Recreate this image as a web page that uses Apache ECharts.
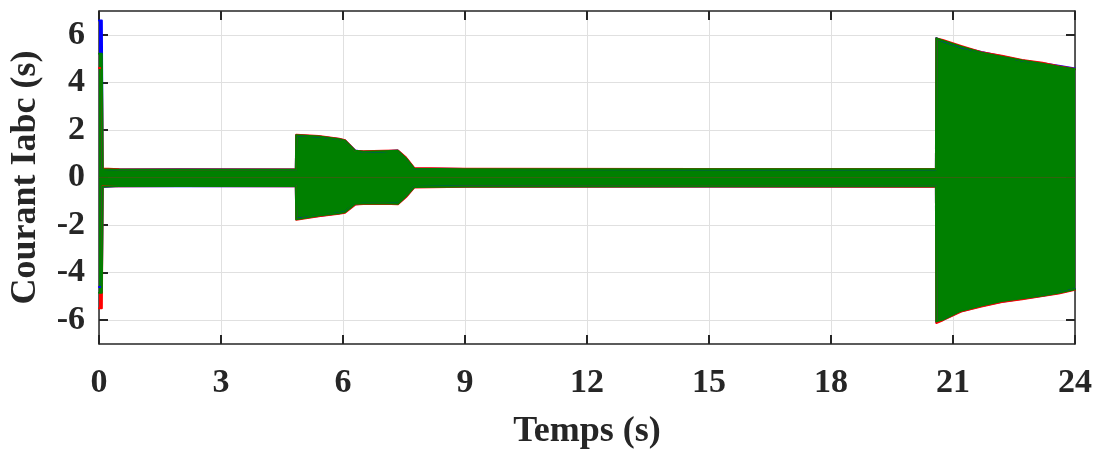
<!DOCTYPE html>
<html>
<head>
<meta charset="utf-8">
<script src="https://cdn.jsdelivr.net/npm/echarts@6/dist/echarts.min.js"></script>
<style>html,body{margin:0;padding:0;background:#fff}#c{width:1102px;height:455px}</style>
</head>
<body>
<div id="c"></div>
<script>
// Time grid (s) for the envelope of the three phase currents
var time    = [0, 0.07, 0.09, 0.5, 2, 4.84, 4.85, 5.4, 5.9, 6.05, 6.3, 6.5, 7.0, 7.35, 7.55, 7.75, 9, 15, 20.58, 20.59, 20.75, 21.2, 21.7, 22.2, 22.7, 23.2, 23.6, 24];
// Upper / lower envelopes (A)
var blueHi  = [6.6, 6.6, 0.36, 0.34, 0.35, 0.34, 1.78, 1.72, 1.62, 1.56, 1.14, 1.08, 1.1, 1.13, 0.82, 0.38, 0.36, 0.35, 0.35, 5.86, 5.74, 5.48, 5.28, 5.1, 4.92, 4.8, 4.7, 4.58];
var blueLo  = [-4.6, -4.6, -0.4, -0.36, -0.37, -0.36, -1.74, -1.62, -1.5, -1.45, -1.12, -1.1, -1.09, -1.1, -0.8, -0.4, -0.38, -0.38, -0.38, -6.08, -5.98, -5.62, -5.4, -5.22, -5.1, -4.97, -4.86, -4.7];
var redHi   = [4.6, 4.6, 0.38, 0.35, 0.34, 0.35, 1.8, 1.74, 1.63, 1.57, 1.13, 1.1, 1.12, 1.14, 0.84, 0.4, 0.37, 0.36, 0.36, 5.84, 5.78, 5.53, 5.27, 5.12, 4.94, 4.82, 4.68, 4.56];
var redLo   = [-5.5, -5.5, -0.36, -0.37, -0.36, -0.37, -1.78, -1.63, -1.52, -1.48, -1.14, -1.11, -1.1, -1.12, -0.82, -0.42, -0.39, -0.38, -0.39, -6.12, -6.0, -5.64, -5.42, -5.23, -5.12, -4.98, -4.88, -4.72];
var greenHi = [5.2, 5.2, 0.35, 0.33, 0.33, 0.33, 1.78, 1.72, 1.61, 1.55, 1.12, 1.08, 1.1, 1.12, 0.8, 0.37, 0.35, 0.35, 0.35, 5.85, 5.75, 5.5, 5.25, 5.08, 4.92, 4.78, 4.66, 4.55];
var greenLo = [-4.85, -4.85, -0.38, -0.36, -0.36, -0.36, -1.76, -1.6, -1.5, -1.45, -1.1, -1.09, -1.08, -1.1, -0.78, -0.4, -0.38, -0.37, -0.37, -6.05, -5.97, -5.6, -5.38, -5.19, -5.08, -4.96, -4.85, -4.7];
var xTicks = [0, 3, 6, 9, 12, 15, 18, 21, 24];
var yTicks = [-6, -4, -2, 0, 2, 4, 6];

function pairs(v){ return time.map(function(t,i){ return [t, v[i]]; }); }
function band(name, v, color){
  return {
    name: name, type: 'line', data: pairs(v), showSymbol: false, symbol: 'none',
    lineStyle: {color: color, width: 2, cap: 'round', join: 'round'}, itemStyle: {color: color},
    areaStyle: {color: color, opacity: 1, origin: 0},
    xAxisIndex: 0, yAxisIndex: 0, animation: false, silent: true, clip: false
  };
}
var FONT = '"Liberation Serif", "Times New Roman", serif';
var axisCol = '#262626';
var chart = echarts.init(document.getElementById('c'), null, {renderer: 'canvas'});
chart.setOption({
  backgroundColor: '#fff',
  animation: false,
  grid: {left: 98, right: 27, top: 11, bottom: 106, containLabel: false},
  xAxis: [{
    type: 'value', min: 0, max: 24, interval: 3,
    name: 'Temps (s)', nameLocation: 'middle', nameGap: 70,
    nameTextStyle: {fontFamily: FONT, fontWeight: 'bold', fontSize: 36, color: axisCol},
    axisLine: {show: true, onZero: false, lineStyle: {color: axisCol, width: 1.5}},
    axisTick: {show: true, inside: true, length: 9, customValues: xTicks, lineStyle: {color: axisCol, width: 2}},
    axisLabel: {fontFamily: FONT, fontWeight: 'bold', fontSize: 34, color: axisCol, margin: 22, customValues: xTicks},
    splitLine: {show: true, lineStyle: {color: '#e0e0e0', width: 1}}
  },{
    type: 'value', min: 0, max: 24, interval: 3, position: 'top',
    axisLine: {show: true, onZero: false, lineStyle: {color: axisCol, width: 1.5}},
    axisTick: {show: true, inside: true, length: 9, lineStyle: {color: axisCol, width: 2}},
    axisLabel: {show: false}, splitLine: {show: false}
  }],
  yAxis: [{
    type: 'value', min: -7, max: 7,
    name: 'Courant Iabc (s)', nameLocation: 'middle', nameGap: 55, nameRotate: 90,
    nameTextStyle: {fontFamily: FONT, fontWeight: 'bold', fontSize: 36, color: axisCol},
    axisLine: {show: true, onZero: false, lineStyle: {color: axisCol, width: 1.5}},
    axisTick: {show: true, inside: true, length: 9, customValues: yTicks, lineStyle: {color: axisCol, width: 2}},
    axisLabel: {fontFamily: FONT, fontWeight: 'bold', fontSize: 34, color: axisCol, margin: 14, customValues: yTicks},
    splitLine: {show: true, lineStyle: {color: '#e0e0e0', width: 1}}
  },{
    type: 'value', min: -7, max: 7, position: 'right',
    axisLine: {show: true, onZero: false, lineStyle: {color: axisCol, width: 1.5}},
    axisTick: {show: true, inside: true, length: 9, customValues: yTicks, lineStyle: {color: axisCol, width: 2}},
    axisLabel: {show: false}, splitLine: {show: false}
  }],
  series: [
    band('Ia+', blueHi, '#0000ff'), band('Ia-', blueLo, '#0000ff'),
    band('Ib+', redHi, '#ff0000'), band('Ib-', redLo, '#ff0000'),
    band('Ic+', greenHi, '#008000'), band('Ic-', greenLo, '#008000')
  ]
});
</script>
</body>
</html>
